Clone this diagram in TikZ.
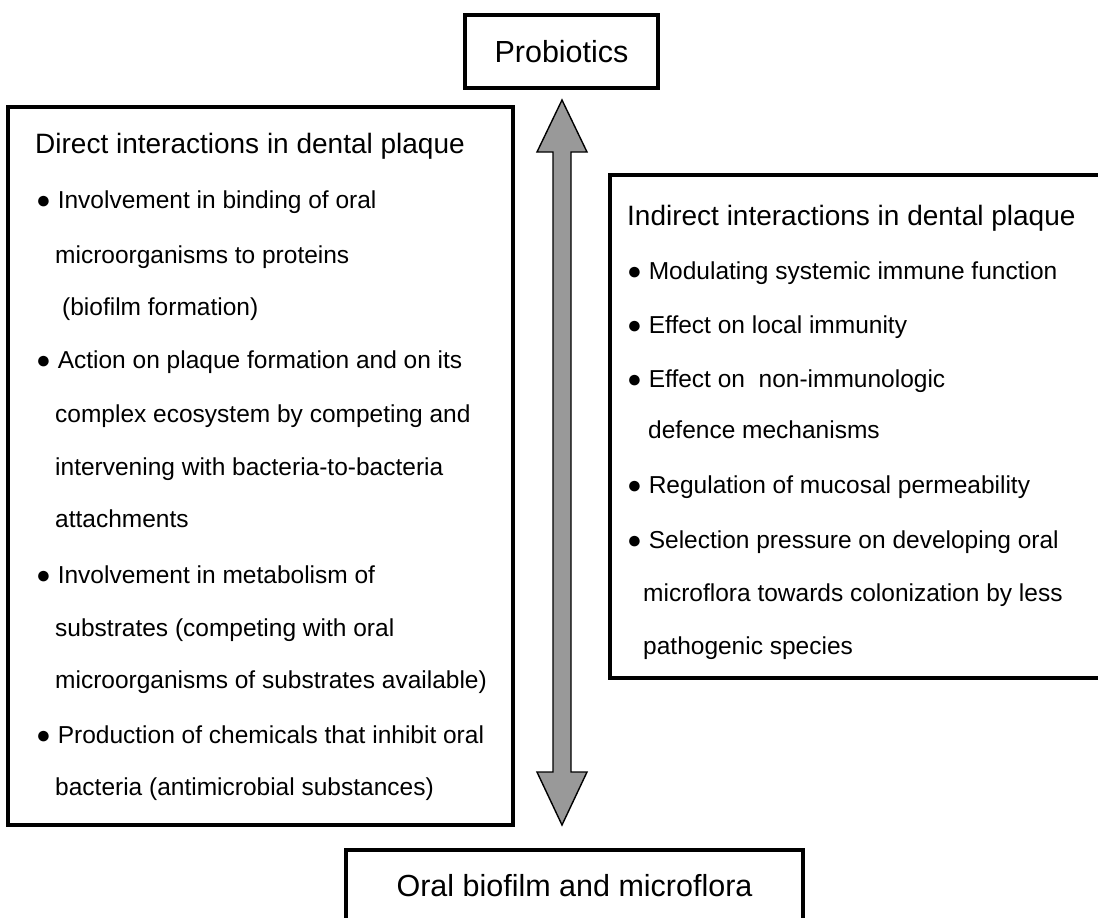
\documentclass[tikz,border=0pt]{standalone}
\usepackage{fontspec}
\setmainfont{Liberation Sans}
\usetikzlibrary{calc}
\begin{document}
\begin{tikzpicture}[x=1pt,y=-1pt,
  frame/.style={draw=black, line width=3.6pt, inner sep=0pt},
  body/.style={anchor=base west, inner sep=0pt, font=\fontsize{24.5}{29}\selectfont},
  head/.style={anchor=base west, inner sep=0pt, font=\fontsize{28}{33}\selectfont},
  title/.style={font=\fontsize{30.5}{36}\selectfont},
  arrowbody/.style={draw=black, line width=1.4pt, fill=black!40, line join=miter}]
\useasboundingbox (0,0) rectangle (1098,918);
\clip (0,0) rectangle (1098,918);

% framed boxes
\node[frame, title, minimum width=193pt, minimum height=73pt] (pro) at (561.5,51.5) {Probiotics};
\node[frame, title, minimum width=457pt, minimum height=72pt] (oral) at (574.5,886) {Oral biofilm and microflora};
\node[frame, minimum width=505pt, minimum height=718pt] (direct) at (260.5,466) {};
\node[frame, minimum width=500pt, minimum height=503pt] (indirect) at (860,426.5) {};

% two-headed block arrow between the two ends
\coordinate (up) at (562,100);
\coordinate (dn) at (562,825);
\draw[arrowbody] (up) -- ($(up)+(25,52)$) -- ($(up)+(9,52)$) -- ($(dn)+(9,-53)$)
  -- ($(dn)+(25,-53)$) -- (dn) -- ($(dn)+(-25,-53)$) -- ($(dn)+(-9,-53)$)
  -- ($(up)+(-9,52)$) -- ($(up)+(-25,52)$) -- cycle;

% direct interactions
\node[head] (dh) at (35,153) {Direct interactions in dental plaque};
\node[body] (d1a) at (36,208) {● Involvement in binding of oral};
\node[body] (d1b) at (55,263) {microorganisms to proteins};
\node[body] (d1c) at (62,315) {(biofilm formation)};
\node[body] (d2a) at (36,368) {● Action on plaque formation and on its};
\node[body] (d2b) at (55,422) {complex ecosystem by competing and};
\node[body] (d2c) at (55,475) {intervening with bacteria-to-bacteria};
\node[body] (d2d) at (55,527) {attachments};
\node[body] (d3a) at (36,583) {● Involvement in metabolism of};
\node[body] (d3b) at (55,636) {substrates (competing with oral};
\node[body] (d3c) at (55,688) {microorganisms of substrates available)};
\node[body] (d4a) at (36,743) {● Production of chemicals that inhibit oral};
\node[body] (d4b) at (55,795) {bacteria (antimicrobial substances)};

% indirect interactions
\node[head] (ih) at (627,225) {Indirect interactions in dental plaque};
\node[body] (i1) at (627,279) {● Modulating systemic immune function};
\node[body] (i2) at (627,333) {● Effect on local immunity};
\node[body] (i3a) at (627,387) {● Effect on\ \ non-immunologic};
\node[body] (i3b) at (648,438) {defence mechanisms};
\node[body] (i4) at (627,493) {● Regulation of mucosal permeability};
\node[body] (i5a) at (627,548) {● Selection pressure on developing oral};
\node[body] (i5b) at (643,601) {microflora towards colonization by less};
\node[body] (i5c) at (643,654) {pathogenic species};
\end{tikzpicture}
\end{document}
